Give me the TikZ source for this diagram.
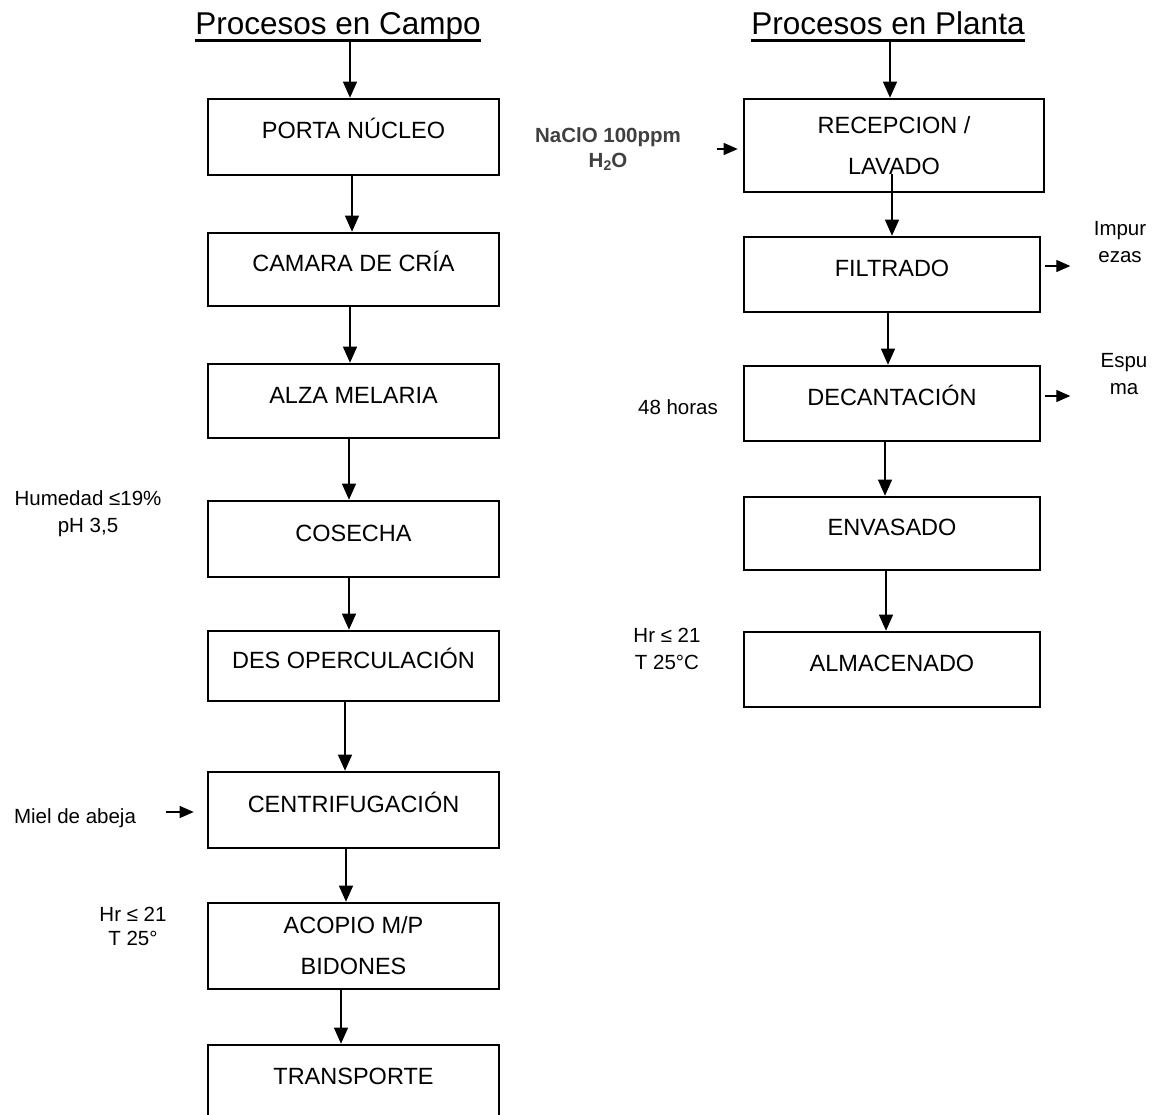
\documentclass[tikz,border=0pt]{standalone}
\usepackage{fontspec}
\setmainfont{Liberation Sans}
\usetikzlibrary{arrows.meta}
\begin{document}
\begin{tikzpicture}[x=1pt,y=-1pt,
  box/.style={draw, line width=2.6pt, inner sep=0pt, font=\fontsize{23.5}{41}\selectfont, align=center},
  one/.style={text height=16pt, text depth=12pt},
  boxL/.style={box, minimum width=291pt},
  boxR/.style={box, minimum width=296pt},
  arr/.style={line width=1.3pt, -{Triangle[length=16pt,width=14pt]}},
  sarr/.style={line width=1.3pt, -{Triangle[length=14pt,width=12pt]}},
  lab/.style={font=\fontsize{20.5}{27}\selectfont, align=center, anchor=base, inner sep=0pt},
  ttl/.style={font=\fontsize{31.5}{31.5}\selectfont, anchor=base, inner sep=0pt}]
\fill[white] (0,0) rectangle (1156,1115);
\path[use as bounding box] (0,0) rectangle (1156,1115);

% titles
\node[ttl] (t1) at (338,35) {Procesos en Campo};
\node[ttl] (t2) at (888,35) {Procesos en Planta};
\draw[line width=2.2pt] ([yshift=-5.5pt]t1.base west) -- ([yshift=-5.5pt]t1.base east);
\draw[line width=2.2pt] ([yshift=-5.5pt]t2.base west) -- ([yshift=-5.5pt]t2.base east);

% left column
\node[boxL,one,minimum height=76pt] (porta) at (353.5,137) {PORTA NÚCLEO};
\node[boxL,one,minimum height=73pt] (camara) at (353.5,269.5) {CAMARA DE CRÍA};
\node[boxL,one,minimum height=74pt] (alza) at (353.5,401) {ALZA MELARIA};
\node[boxL,one,minimum height=76pt] (cosecha) at (353.5,539) {COSECHA};
\node[boxL,one,minimum height=70pt] (des) at (353.5,666) {DES OPERCULACIÓN};
\node[boxL,one,minimum height=76pt] (centri) at (353.5,810) {CENTRIFUGACIÓN};
\node[boxL,minimum height=86pt] (acopio) at (353.5,946) {ACOPIO M/P\\BIDONES};
\node[boxL,text height=16pt,text depth=32.2pt,minimum height=95pt] (trans) at (353.5,1092.5) {TRANSPORTE};

% right column
\node[boxR,minimum height=93pt,minimum width=300pt] (rec) at (894,145.5) {RECEPCION /\\LAVADO};
\node[boxR,one,minimum height=75pt] (filt) at (892,274.5) {FILTRADO};
\node[boxR,one,minimum height=75pt] (dec) at (892,403.5) {DECANTACIÓN};
\node[boxR,one,minimum height=73pt] (env) at (892,533.5) {ENVASADO};
\node[boxR,one,minimum height=75pt] (alm) at (892,669.5) {ALMACENADO};

% side labels
\node[lab] (hum) at (88,532.5) {Humedad ≤19\%\\pH 3,5};
\node[lab] (miel) at (75,823.5) {Miel de abeja};
\node[lab,font=\fontsize{20.5}{24}\selectfont] (hrl) at (133,945.5) {Hr ≤ 21\\T 25°};
\node[lab,font=\fontsize{20.5}{25}\selectfont\bfseries,text=black!75] (nacl) at (608,167.5) {NaClO 100ppm\\H\raisebox{-3pt}{\fontsize{14}{14}\selectfont 2}O};
\node[lab] (horas) at (678,414.5) {48 horas};
\node[lab] (hrr) at (667,669.5) {Hr ≤ 21\\T 25°C};
\node[lab] (imp) at (1120,262.5) {Impur\\ezas};
\node[lab] (esp) at (1124,394.5) {Espu\\ma};

% main arrows left
\draw[arr] ([xshift=12pt,yshift=-7pt]t1.base) -- ([xshift=-3.5pt]porta.north);
\draw[arr] ([xshift=-1.5pt]porta.south) -- ([xshift=-1.5pt]camara.north);
\draw[arr] ([xshift=-3.5pt]camara.south) -- ([xshift=-3.5pt]alza.north);
\draw[arr] ([xshift=-4.5pt]alza.south) -- ([xshift=-4.5pt]cosecha.north);
\draw[arr] ([xshift=-4.5pt]cosecha.south) -- ([xshift=-4.5pt]des.north);
\draw[arr] ([xshift=-8.5pt]des.south) -- ([xshift=-8.5pt]centri.north);
\draw[arr] ([xshift=-7.5pt]centri.south) -- ([xshift=-7.5pt]acopio.north);
\draw[arr] ([xshift=-12.5pt]acopio.south) -- ([xshift=-12.5pt]trans.north);

% main arrows right
\draw[arr] ([xshift=2pt,yshift=-7pt]t2.base) -- ([xshift=-4pt]rec.north);
\draw[arr] ([xshift=-2pt,yshift=19pt]rec.south) -- (filt.north);
\draw[arr] ([xshift=-4pt]filt.south) -- ([xshift=-4pt]dec.north);
\draw[arr] ([xshift=-7pt]dec.south) -- ([xshift=-7pt]env.north);
\draw[arr] ([xshift=-6pt]env.south) -- ([xshift=-6pt]alm.north);

% side arrows
\draw[sarr] ([xshift=-26pt,yshift=-3.5pt]rec.west) -- ([xshift=-5pt,yshift=-3.5pt]rec.west);
\draw[sarr] ([xshift=4pt,yshift=8.5pt]filt.east) -- ([xshift=29pt,yshift=8.5pt]filt.east);
\draw[sarr] ([xshift=4pt,yshift=7.5pt]dec.east) -- ([xshift=29pt,yshift=7.5pt]dec.east);
\draw[sarr] ([xshift=-41pt,yshift=-2pt]centri.west) -- ([xshift=-13pt,yshift=-2pt]centri.west);
\end{tikzpicture}
\end{document}
